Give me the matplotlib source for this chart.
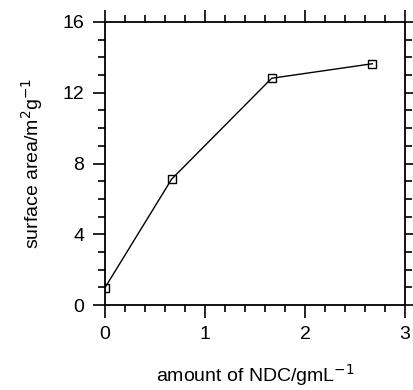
import numpy as np
import matplotlib.pyplot as plt
from matplotlib.ticker import MultipleLocator

plt.rcParams['font.family'] = ['Liberation Sans', 'DejaVu Sans']

# data
ndc_amount = [0.0, 0.667, 1.667, 2.673]
surface_area = [0.98, 7.12, 12.82, 13.64]

fig = plt.figure(figsize=(4.13, 3.90), dpi=100)
ax = fig.add_axes([105 / 413, 85 / 390, 300 / 413, 283 / 390])

ax.plot(ndc_amount, surface_area, '-', color='black', lw=1.0,
        marker='s', markersize=6, markerfacecolor='none',
        markeredgecolor='black', markeredgewidth=1.0)

ax.set_xlim(0, 3)
ax.set_ylim(0, 16)
ax.xaxis.set_major_locator(MultipleLocator(1))
ax.xaxis.set_minor_locator(MultipleLocator(0.2))
ax.yaxis.set_major_locator(MultipleLocator(4))
ax.yaxis.set_minor_locator(MultipleLocator(1))

ax.tick_params(which='both', direction='out', top=True, right=True,
               width=1.2, colors='black', labelsize=14)
ax.tick_params(which='major', length=9, pad=6)
ax.tick_params(which='minor', length=5)
ax.tick_params(labeltop=False, labelright=False)
for s in ax.spines.values():
    s.set_linewidth(1.3)

ax.set_xlabel('amount of NDC/gmL$^{-1}$', fontsize=14)
ax.set_ylabel('surface area/m$^{2}$g$^{-1}$', fontsize=14)
ax.xaxis.set_label_coords(0.5, -0.2)
ax.yaxis.set_label_coords(-0.2, 0.5)

fig.savefig('out.png', dpi=100)
